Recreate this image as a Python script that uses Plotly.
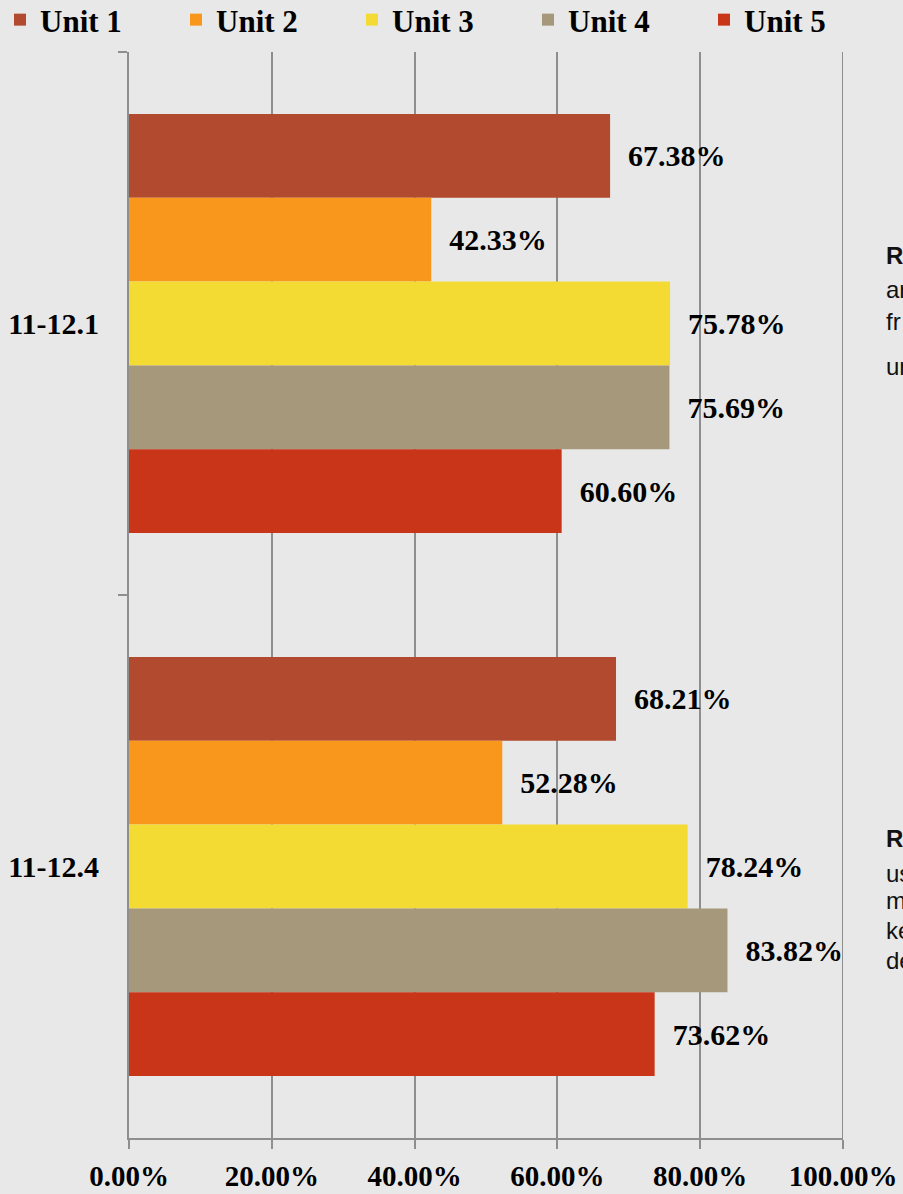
import plotly.graph_objects as go

# Survey periods (top to bottom) and the share reached by each unit, in percent
periods = ["11-12.1", "11-12.4"]
units = ["Unit 1", "Unit 2", "Unit 3", "Unit 4", "Unit 5"]
unit1 = [67.38, 68.21]
unit2 = [42.33, 52.28]
unit3 = [75.78, 78.24]
unit4 = [75.69, 83.82]
unit5 = [60.60, 73.62]
x_ticks = [0, 20, 40, 60, 80, 100]
x_tick_labels = ["0.00%", "20.00%", "40.00%", "60.00%", "80.00%", "100.00%"]

# Side notes running off the right edge of the slide
note_top = ["<b>R</b>", "ar", "fr", "ur"]
note_bottom = ["<b>R</b>", "us", "m", "ke", "de"]

colors = ["#B14A2F", "#F8971C", "#F4DB34", "#A5987B", "#C93518"]
series = [unit1, unit2, unit3, unit4, unit5]

SERIF = "Liberation Serif"
GRID = "#8E8E8E"
label_font = dict(family=SERIF, size=30, color="#000000", weight="bold")

# Plot-area geometry (pixels)
L, R, T, B = 129, 60, 52, 56
W, H = 903, 1194
pw, ph = W - L - R, H - T - B


def px_to_paper(px, py):
    return (px - L) / pw, (H - B - py) / ph


fig = go.Figure()
legend_layouts = {}
for i, (name, vals, col) in enumerate(zip(units, series, colors)):
    key = "legend" if i == 0 else f"legend{i + 1}"
    fig.add_trace(go.Bar(
        y=periods,
        x=vals,
        name=name,
        orientation="h",
        legend=key,
        showlegend=True,
        marker=dict(color=col, line=dict(width=0)),
        text=[f"{v:.2f}%" for v in vals],
        texttemplate="\u00a0\u00a0%{text}",
        textposition="outside",
        constraintext="none",
        cliponaxis=False,
        textfont=label_font,
        outsidetextfont=label_font,
        hoverinfo="skip",
    ))
    # one single-entry legend per unit, spread evenly along the top
    lx, ly = px_to_paper(176 * i, 20)
    legend_layouts[key] = dict(
        orientation="h",
        x=lx, y=ly, xanchor="left", yanchor="middle",
        font=dict(family=SERIF, size=31, color="#000000", weight="bold"),
        itemwidth=30,
        bgcolor="rgba(0,0,0,0)",
    )

note_font = dict(family="Liberation Sans", size=24, color="#111111")
annotations = []
for txt, py in zip(note_top, [255, 289, 321, 366]):
    xp, yp = px_to_paper(884, py)
    annotations.append(dict(text=txt, x=xp, y=yp, xref="paper", yref="paper",
                            xanchor="left", yanchor="middle", showarrow=False,
                            font=note_font))
for txt, py in zip(note_bottom, [838, 873, 900, 930, 960]):
    xp, yp = px_to_paper(884, py)
    annotations.append(dict(text=txt, x=xp, y=yp, xref="paper", yref="paper",
                            xanchor="left", yanchor="middle", showarrow=False,
                            font=note_font))

# Gridline at the right end of the value axis (Plotly skips the edge gridline)
shapes = [dict(type="line", xref="x", yref="paper", x0=100, x1=100, y0=0, y1=1,
               line=dict(color=GRID, width=2), layer="below")]

fig.update_layout(
    width=W, height=H,
    margin=dict(l=L, r=R, t=T, b=B, autoexpand=False),
    paper_bgcolor="#E8E8E8",
    plot_bgcolor="#E8E8E8",
    showlegend=True,
    barmode="group",
    bargap=0.228,
    bargroupgap=0,
    font=dict(family=SERIF, size=30, color="#000000"),
    annotations=annotations,
    shapes=shapes,
    xaxis=dict(
        range=[0, 100],
        tickvals=x_ticks,
        ticktext=x_tick_labels,
        showgrid=True, gridcolor=GRID, gridwidth=2,
        showline=True, linecolor=GRID, linewidth=2,
        ticks="outside", ticklen=9, tickwidth=2, tickcolor=GRID,
        ticklabelstandoff=2,
        tickfont=dict(family=SERIF, size=29, color="#000000", weight="bold"),
        zeroline=False,
    ),
    yaxis=dict(
        autorange="reversed",
        categoryorder="array", categoryarray=periods,
        showline=True, linecolor=GRID, linewidth=2,
        ticks="outside", tickson="boundaries", ticklen=9, tickwidth=2, tickcolor=GRID,
        ticklabelstandoff=22,
        tickfont=label_font,
        showgrid=False,
    ),
    **legend_layouts,
)

fig.write_html("out.html")
